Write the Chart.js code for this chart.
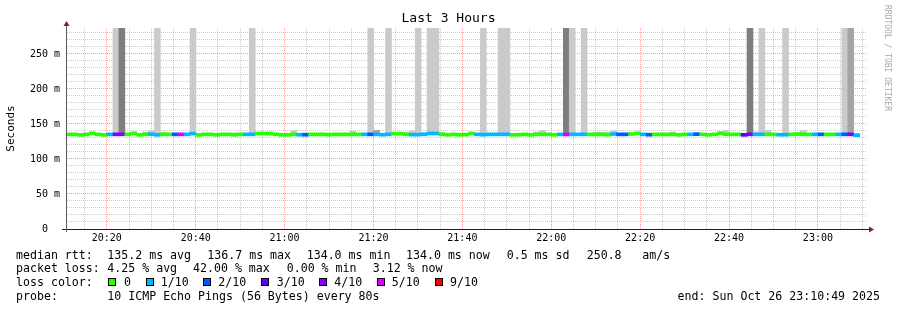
<!DOCTYPE html>
<html>
<head>
<meta charset="utf-8">
<title>Last 3 Hours</title>
<script src="https://cdn.jsdelivr.net/npm/chart.js@4.4.1/dist/chart.umd.min.js"></script>
<style>
  html, body { margin:0; padding:0; background:#ffffff; }
  #wrap { position:relative; width:897px; height:310px; overflow:hidden; background:#ffffff; }
  #chart { position:absolute; left:0; top:0; }
  .txt { position:absolute; font-family:"DejaVu Sans Mono", monospace; font-size:11.6px; line-height:14px; white-space:pre; color:#000; }
  .sw { position:absolute; box-sizing:border-box; width:8px; height:8px; border:1px solid #000; }
</style>
</head>
<body>
<div id="wrap">
  <canvas id="chart" width="897" height="310"></canvas>
  <div id="footer"></div>
</div>
<script>
// ================= DATA =================
const TITLE = 'Last 3 Hours';
const Y_TITLE = 'Seconds';
const RANGE_START = '20:10:49';
const RANGE_END = '23:10:49';
const FIRST_STEP = '20:11:23';      // centre of the first 80 s RRD step
const STEP_SECONDS = 80;
const Y_MAX_MS = 287.1;

// median round-trip time per step (ms)
const medianMs = [
  135.2,135.2,134.4,135.2,136.6,135.2,134.4,135.2,135.2,135.2,
  135.2,136.5,134.4,135.2,135.4,134.5,135.2,135.2,135.2,135.2,
  135.2,136.2,134.4,135.2,135.2,134.5,135.2,135.2,134.5,135.2,
  135.2,135.2,136.4,136.4,136.2,135.2,134.5,134.5,135.2,134.7,
  134.7,135.2,135.2,135.2,134.8,135.2,135.2,135.2,135.2,135.2,
  135.2,135.2,135.2,134.7,135.2,136.2,136.2,135.2,134.8,134.8,
  135.4,136.4,136.4,135.2,134.6,135.2,134.6,134.8,136.5,135.2,
  134.7,135.2,135.2,135.2,135.2,134.5,134.7,135.2,134.5,135.2,
  135.2,135.2,134.5,135.2,135.0,135.2,135.2,135.2,135.2,135.2,
  135.2,134.7,135.7,135.2,135.2,135.7,136.7,135.2,134.7,135.2,
  135.2,135.2,135.2,134.5,135.2,135.2,135.5,135.2,134.5,135.2,
  136.7,135.2,135.2,135.2,134.5,135.2,135.2,135.2,135.2,135.2,
  134.7,134.7,135.2,135.5,135.2,135.2,135.2,135.2,135.2,135.2,
  135.2,135.2,135.2,134.0
];

// average number of lost pings (of 10) per step
const lostPings = [
  0,0,0,0,0,0,0,0.6,3.6,3.8,
  0,0,0,0,0.5,0.7,0,0,1.2,4.2,
  0.6,0.8,0,0,0,0,0,0,0,0,
  0.5,0.9,0,0,0,0,0,0,0,0.5,
  1.3,0,0,0,0,0,0,0,0,0,
  0.6,1.2,0.7,0.5,0.8,0,0,0,0.6,0.8,
  0.5,0.9,0.9,0,0,0,0,0,0,0.5,
  0.8,0.6,0.5,0.8,0.9,0,0,0,0,0,
  0,0,0,0.6,4.2,0.9,0.5,0.8,0,0,
  0,0,0.6,1.3,1.2,0,0,0.5,1.2,0,
  0,0,0,0,0,0.6,1.2,0,0,0,
  0,0,0,0,2.6,3.7,0.6,0.9,0,0,
  0.5,0.8,0,0,0,0,0.6,1.3,0,0,
  0.5,1.4,3.5,0.31
];

// top of the ping "smoke" per step (ms); 290 = beyond the top of the graph
const smokeTopMs = [
  136,136,136,136,136,136,136,136,290,290,
  136,138.5,136,138.5,140,290,138.5,136,136,136,
  136,290,136,136,136,136,136,136,137.5,136,
  136,290,137,137,138.5,136,136,136,140.5,136,
  136,136,136,136,136,136,136,136,139.5,136,
  136,290,141,136,290,137,137,138.5,140,290,
  136,290,290,138,136,136,136,136,137.5,136,
  290,136,136,290,290,136,136,136,136,138.5,
  141,136,136,136,290,290,136,290,136,138.5,
  138.5,138.5,140,136,136,136.5,137.5,136,136,136,
  136,136,138.5,136,136,136,136.5,136,136,136,
  138.5,141,136,136,136,290,138.5,290,141,136,
  136,290,136,138,141,136,136,136,136,136,
  136,290,290,136
];

// smoke density level per step (1 light, 2 medium, 3 dark)
const smokeLevel = [
  1,1,1,1,1,1,1,1,1,3,
  1,1,1,1,1,1,1,1,1,1,
  1,1,1,1,1,1,1,1,1,1,
  1,1,1,1,1,1,1,1,1,1,
  1,1,1,1,1,1,1,1,1,1,
  1,1,2,1,1,1,1,1,1,1,
  1,1,1,1,1,1,1,1,1,1,
  1,1,1,1,1,1,1,1,1,1,
  1,1,1,1,3,1,1,1,1,1,
  1,1,1,1,1,1,1,1,1,1,
  1,1,1,1,1,1,1,1,1,1,
  1,1,1,1,1,3,1,1,1,1,
  1,1,1,1,1,1,1,1,1,1,
  1,1,2,1
];

const lossThresholds = [0, 1, 2, 3, 4, 5, 9];
const lossLabels = ['0', '1/10', '2/10', '3/10', '4/10', '5/10', '9/10'];
const lossColors = ['#26ff00', '#00b8ff', '#0059ff', '#5e00ff', '#7e00ff', '#dd00ff', '#ff0000'];
const smokeColors = ['#cacaca', '#a4a4a4', '#7e7e7e'];

const statsRtt  = ['median rtt:', '135.2 ms avg', '136.7 ms max', '134.0 ms min', '134.0 ms now', '0.5 ms sd', '250.8', 'am/s'];
const statsLoss = ['packet loss:', '4.25 % avg', '42.00 % max', '0.00 % min', '3.12 % now'];
const lossTitle = 'loss color:';
const probeText = ['probe:', '10 ICMP Echo Pings (56 Bytes) every 80s'];
const endText   = 'end: Sun Oct 26 23:10:49 2025';
const watermark = 'RRDTOOL / TOBI OETIKER';

// ================= LAYOUT / STYLE =================
const FONT = '"DejaVu Sans Mono", monospace';
const MEDIAN_HALF_MS = 2.15;   // half thickness of the median band
const GRID_MINOR = 'rgba(143,143,143,0.45)';
const GRID_MAJOR = 'rgba(222,79,79,0.55)';
const AXIS_COLOR = '#1f1f1f';
const Y_AXIS_COLOR = '#5a5a5a';
const ARROW_COLOR = '#801f1f';

function toMin(hms) { const p = hms.split(':').map(Number); return p[0] * 60 + p[1] + (p[2] || 0) / 60; }
function fmtHM(v) { const h = Math.floor(v / 60), m = Math.round(v - h * 60); return String(h).padStart(2, '0') + ':' + String(m).padStart(2, '0'); }
function lossColor(l) {
  for (let i = 0; i < lossThresholds.length; i++) if (l <= lossThresholds[i]) return lossColors[i];
  return lossColors[lossColors.length - 1];
}

const X_MIN = toMin(RANGE_START), X_MAX = toMin(RANGE_END);
const stepMin = STEP_SECONDS / 60;
const t0 = toMin(FIRST_STEP);
const stepTimes = medianMs.map((_, i) => t0 + i * stepMin);

const xGrid = []; for (let v = Math.ceil(X_MIN / 5) * 5; v <= X_MAX; v += 5) xGrid.push(v);
const yGrid = []; for (let v = 0; v <= Y_MAX_MS; v += 10) yGrid.push(v);

const medianBars = medianMs.map((m, i) => ({ x: stepTimes[i], y: [m - MEDIAN_HALF_MS, m + MEDIAN_HALF_MS] }));
const medianCols = lostPings.map(lossColor);
const smokeBars = smokeTopMs.map((top, i) => ({ x: stepTimes[i], y: [medianMs[i], top] }));
const smokeCols = smokeLevel.map(l => smokeColors[l - 1]);

const decor = {
  id: 'rrdDecor',
  afterDraw(chart) {
    const { ctx, chartArea: a } = chart;
    ctx.save();
    ctx.lineWidth = 1;
    ctx.strokeStyle = AXIS_COLOR;
    ctx.beginPath(); ctx.moveTo(a.left - 4, a.bottom + 0.5); ctx.lineTo(a.right + 3, a.bottom + 0.5); ctx.stroke();
    ctx.strokeStyle = Y_AXIS_COLOR;
    ctx.beginPath(); ctx.moveTo(a.left + 0.5, a.bottom + 3); ctx.lineTo(a.left + 0.5, a.top - 2); ctx.stroke();
    ctx.fillStyle = ARROW_COLOR;
    ctx.beginPath(); ctx.moveTo(a.left + 0.5, a.top - 7); ctx.lineTo(a.left - 2.5, a.top - 2); ctx.lineTo(a.left + 3.5, a.top - 2); ctx.closePath(); ctx.fill();
    ctx.beginPath(); ctx.moveTo(a.right + 8, a.bottom + 0.5); ctx.lineTo(a.right + 3, a.bottom - 2.5); ctx.lineTo(a.right + 3, a.bottom + 3.5); ctx.closePath(); ctx.fill();
    ctx.fillStyle = '#a8a8a8';
    ctx.font = '8px ' + FONT;
    ctx.translate(887, 5);
    ctx.rotate(Math.PI / 2);
    ctx.textBaseline = 'middle';
    ctx.textAlign = 'left';
    ctx.fillText(watermark, 0, 0);
    ctx.restore();
  }
};

new Chart(document.getElementById('chart'), {
  type: 'bar',
  data: {
    datasets: [
      { label: 'median rtt', data: medianBars, backgroundColor: medianCols, order: 0, grouped: false,
        barPercentage: 1, categoryPercentage: 1, borderWidth: 0 },
      { label: 'smoke', data: smokeBars, backgroundColor: smokeCols, order: 1, grouped: false,
        barPercentage: 1, categoryPercentage: 1, borderWidth: 0 }
    ]
  },
  options: {
    responsive: false, animation: false, devicePixelRatio: 1,
    layout: { padding: { left: 0, right: 0, top: 0, bottom: 61 } },
    plugins: {
      legend: { display: false },
      tooltip: { enabled: false },
      title: { display: true, text: TITLE, color: '#000',
        font: { family: FONT, size: 13, weight: 'normal', lineHeight: 1.2 },
        padding: { top: 11.2, bottom: 1.2 } }
    },
    scales: {
      x: {
        type: 'linear', min: X_MIN, max: X_MAX, offset: false,
        afterBuildTicks: s => { s.ticks = xGrid.map(v => ({ value: v })); },
        afterFit: s => { s.height = 20; },
        ticks: { autoSkip: false, maxRotation: 0, minRotation: 0, padding: 3, color: '#000',
          font: { family: FONT, size: 10 },
          callback: v => (Math.round(v) % 20 === 0 ? fmtHM(v) : '') },
        grid: { offset: false, drawTicks: false, lineWidth: 1,
          color: c => (c.tick && Math.round(c.tick.value) % 20 === 0 ? GRID_MAJOR : GRID_MINOR) },
        border: { display: true, color: AXIS_COLOR, width: 1, dash: [1, 1] }
      },
      y: {
        type: 'linear', min: 0, max: Y_MAX_MS,
        afterBuildTicks: s => { s.ticks = yGrid.map(v => ({ value: v })); },
        afterFit: s => { s.width = 66; },
        ticks: { autoSkip: false, padding: 6, color: '#000', font: { family: FONT, size: 10 },
          callback: v => (v % 50 === 0 ? (v === 0 ? '0  ' : v + ' m') : '') },
        grid: { drawTicks: false, lineWidth: 1,
          color: c => (c.tick && c.tick.value % 50 === 0 ? GRID_MAJOR : GRID_MINOR) },
        border: { display: true, color: Y_AXIS_COLOR, width: 1, dash: [1, 1] },
        title: { display: true, text: Y_TITLE, color: '#000', font: { family: FONT, size: 11 },
          padding: { top: 4.4, bottom: 0 } }
      },
      yRight: {
        type: 'linear', position: 'right', display: true,
        afterFit: s => { s.width = 31; },
        ticks: { display: false }, grid: { display: false, drawTicks: false }, border: { display: false }
      }
    }
  },
  plugins: [decor]
});

// ================= FOOTER (legend text) =================
const footer = document.getElementById('footer');
function addText(str, left, top, right) {
  const d = document.createElement('div');
  d.className = 'txt';
  d.textContent = str;
  d.style.top = top + 'px';
  if (right !== undefined) d.style.right = right + 'px'; else d.style.left = left + 'px';
  footer.appendChild(d);
}
const rttX = [16, 107.3, 207.3, 306.7, 406, 506.7, 586.7, 642.3];
statsRtt.forEach((s, i) => addText(s, rttX[i], 247.7));
const lossX = [16, 107.3, 193, 286.7, 372.7];
statsLoss.forEach((s, i) => addText(s, lossX[i], 261.3));
addText(lossTitle, 16, 275.3);
const swX = [108, 146, 203, 261, 319, 377, 435];
const swLabelX = [124, 160.7, 218.3, 276.7, 334.3, 391.7, 450];
lossLabels.forEach((lab, i) => {
  const sq = document.createElement('div');
  sq.className = 'sw';
  sq.style.left = swX[i] + 'px';
  sq.style.top = '278px';
  sq.style.background = lossColors[i];
  footer.appendChild(sq);
  addText(lab, swLabelX[i], 275.3);
});
addText(probeText[0], 16, 289);
addText(probeText[1], 107.3, 289);
addText(endText, 0, 289, 17);
</script>
</body>
</html>
